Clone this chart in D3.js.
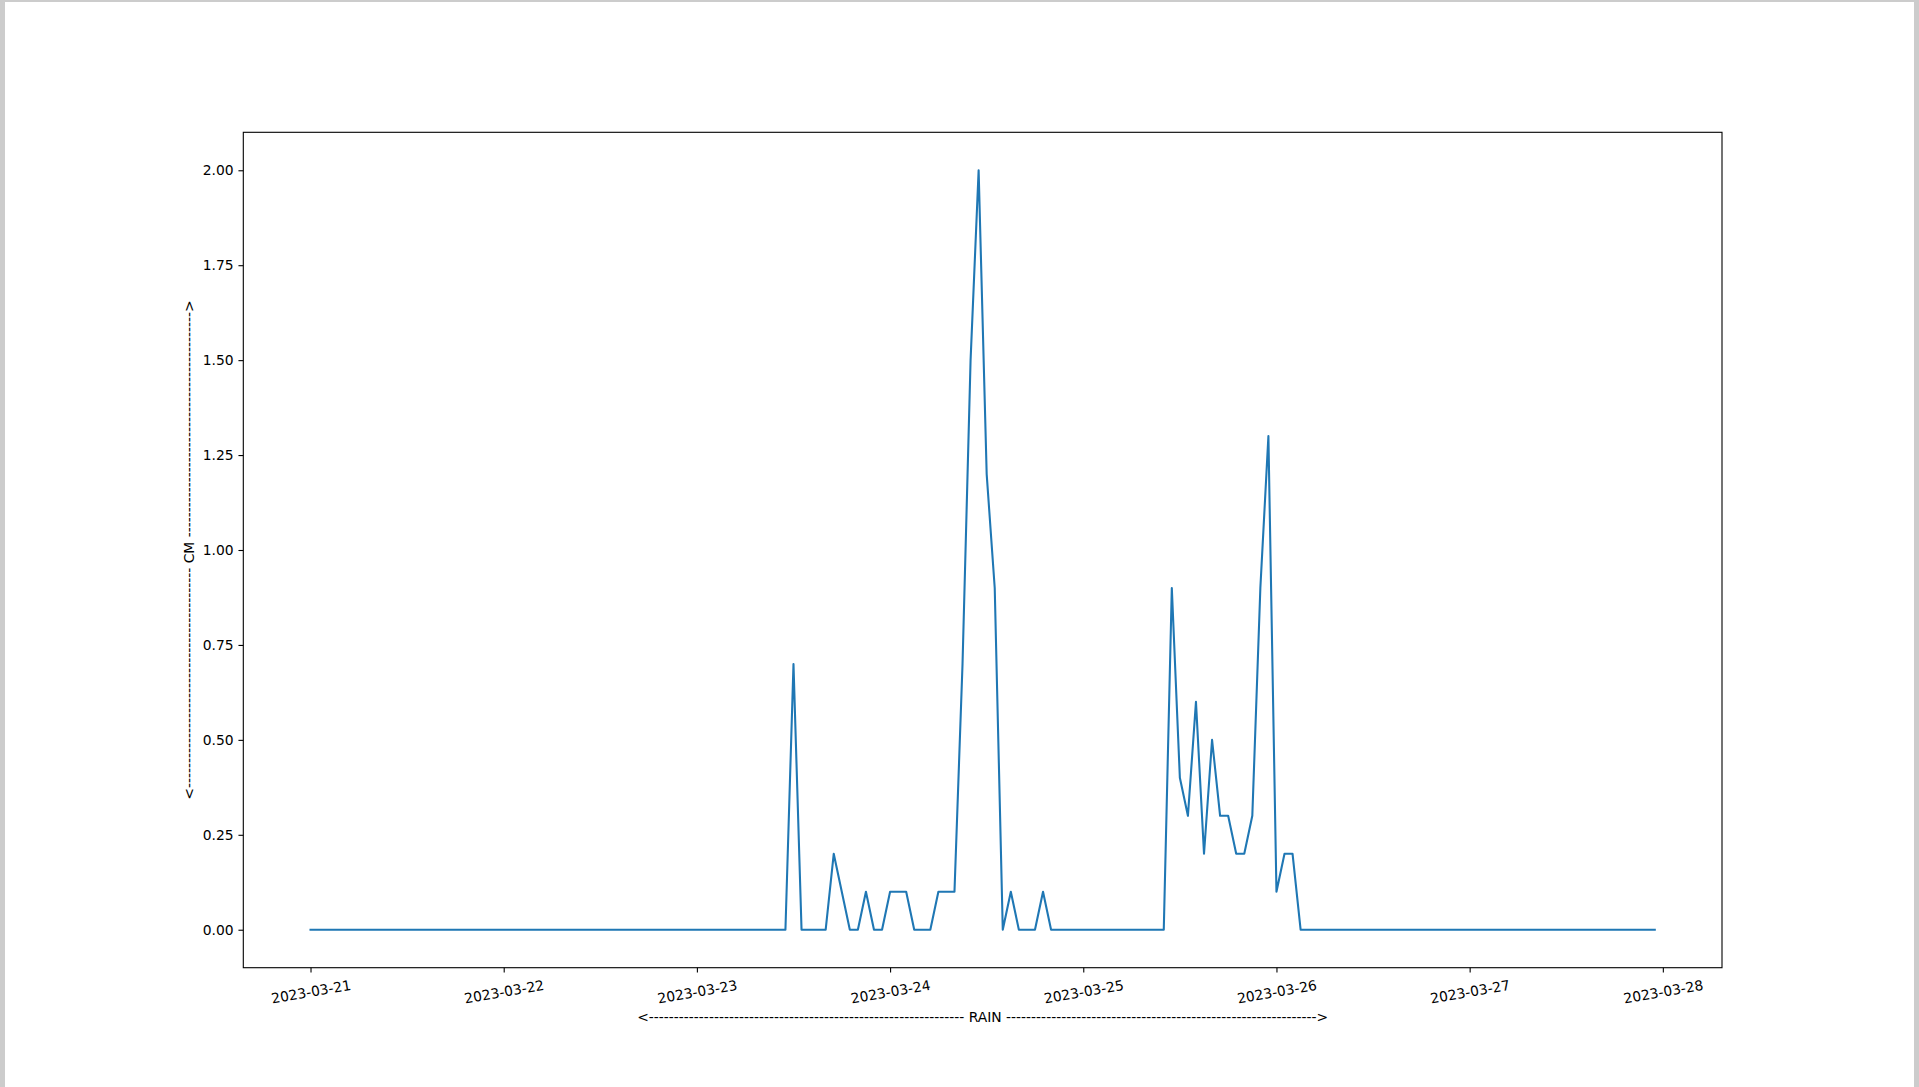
<!DOCTYPE html>
<html>
<head>
<meta charset="utf-8">
<script src="https://cdn.jsdelivr.net/npm/d3@7"></script>
<style>
  html, body { margin: 0; padding: 0; background: #cccccc; }
  svg { display: block; }
  text { font-family: "DejaVu Sans", sans-serif; fill: #000; }
</style>
</head>
<body>
<svg id="chart" width="1919" height="1087"></svg>
<script>
// ---- data (hourly rain, cm) ----
const startTime = "2023-03-21T00:00:00Z";
const day21 = [0,0,0,0,0,0,0,0,0,0,0,0,0,0,0,0,0,0,0,0,0,0,0,0];
const day22 = [0,0,0,0,0,0,0,0,0,0,0,0,0,0,0,0,0,0,0,0,0,0,0,0];
const day23 = [0,0,0,0,0,0,0,0,0,0,0,0,0.7,0,0,0,0,0.2,0.1,0,0,0.1,0,0];
const day24 = [0.1,0.1,0.1,0,0,0,0.1,0.1,0.1,0.7,1.5,2.0,1.2,0.9,0,0.1,0,0,0,0.1,0,0,0,0];
const day25 = [0,0,0,0,0,0,0,0,0,0,0,0.9,0.4,0.3,0.6,0.2,0.5,0.3,0.3,0.2,0.2,0.3,0.9,1.3];
const day26 = [0.1,0.2,0.2,0,0,0,0,0,0,0,0,0,0,0,0,0,0,0,0,0,0,0,0,0];
const day27 = [0,0,0,0,0,0,0,0,0,0,0,0,0,0,0,0,0,0,0,0,0,0,0,0];
const rain = [].concat(day21, day22, day23, day24, day25, day26, day27);
const xTickLabels = ["2023-03-21","2023-03-22","2023-03-23","2023-03-24","2023-03-25","2023-03-26","2023-03-27","2023-03-28"];
const yTickValues = [0, 0.25, 0.5, 0.75, 1.0, 1.25, 1.5, 1.75, 2.0];
const xLabel = "<" + "-".repeat(63) + " RAIN " + "-".repeat(62) + ">";
const yLabel = "<" + "-".repeat(44) + " CM " + "-".repeat(45) + ">";

// ---- layout ----
const W = 1919, H = 1087;
const L = 243.3, R = 1722, T = 132.3, B = 967.7;
const FS = 13.89;

const svg = d3.select("#chart");
svg.append("rect").attr("x", 5).attr("y", 2).attr("width", 1909).attr("height", H - 2).attr("fill", "#fff");

const t0 = new Date(startTime);
const times = rain.map((_, i) => d3.utcHour.offset(t0, i));
const tMin = times[0], tMax = times[times.length - 1];
const span = tMax - tMin;
const x = d3.scaleUtc()
  .domain([new Date(+tMin - 0.05 * span), new Date(+tMax + 0.05 * span)])
  .range([L, R]);
const yMax = d3.max(rain), yMin = d3.min(rain);
const yPad = 0.05 * (yMax - yMin);
const y = d3.scaleLinear().domain([yMin - yPad, yMax + yPad]).range([B, T]);

// line
const line = d3.line().x((d, i) => x(times[i])).y(d => y(d));
svg.append("path").datum(rain)
  .attr("d", line)
  .attr("fill", "none")
  .attr("stroke", "#1f77b4")
  .attr("stroke-width", 2.08)
  .attr("stroke-linejoin", "round")
  .attr("stroke-linecap", "square");

// y axis
const yAxis = d3.axisLeft(y).tickValues(yTickValues).tickFormat(d3.format(".2f")).tickSizeOuter(0).tickSize(4.86).tickPadding(4.86);
const gy = svg.append("g").attr("transform", `translate(${L},0)`).call(yAxis);
gy.select(".domain").remove();
gy.selectAll(".tick line").attr("stroke", "#000").attr("stroke-width", 1.1);
gy.selectAll(".tick text").attr("font-size", FS).attr("font-family", "DejaVu Sans").attr("dy", "0.32em");

// x axis
const xTicks = xTickLabels.map(s => new Date(s + "T00:00:00Z"));
const xAxis = d3.axisBottom(x).tickValues(xTicks).tickFormat((d, i) => xTickLabels[i]).tickSizeOuter(0).tickSize(4.86).tickPadding(4.86);
const gx = svg.append("g").attr("transform", `translate(0,${B})`).call(xAxis);
gx.select(".domain").remove();
gx.selectAll(".tick line").attr("stroke", "#000").attr("stroke-width", 1.1);
gx.selectAll(".tick text")
  .attr("font-size", FS)
  .attr("font-family", "DejaVu Sans")
  .attr("text-anchor", "middle")
  .attr("y", 0).attr("dy", 0)
  .attr("dominant-baseline", "central")
  .attr("transform", "translate(0,24) rotate(-10)");

// frame
svg.append("rect").attr("x", L).attr("y", T).attr("width", R - L).attr("height", B - T)
  .attr("fill", "none").attr("stroke", "#000").attr("stroke-width", 1.1);

// axis labels
svg.append("text").attr("x", (L + R) / 2).attr("y", 1017).attr("text-anchor", "middle")
  .attr("dominant-baseline", "central").attr("font-size", FS).text(xLabel);
svg.append("text").attr("transform", `translate(188.5,${(T + B) / 2}) rotate(-90)`).attr("text-anchor", "middle")
  .attr("dominant-baseline", "central").attr("font-size", FS).text(yLabel);
</script>
</body>
</html>
